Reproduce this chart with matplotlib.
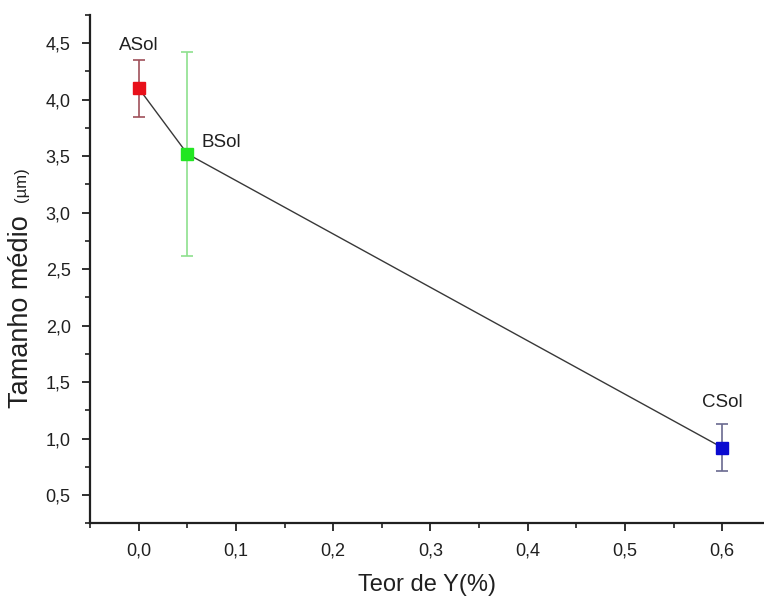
import matplotlib
matplotlib.use("Agg")
import matplotlib.pyplot as plt
from matplotlib.ticker import MultipleLocator, FuncFormatter

plt.rcParams['font.family'] = ['Liberation Sans', 'DejaVu Sans']

# sample data
samples = ['ASol', 'BSol', 'CSol']
teor_y = [0.0, 0.05, 0.6]
tamanho = [4.10, 3.52, 0.92]
erro = [0.25, 0.90, 0.21]

marker_colors = ['#e8101a', '#22e622', '#0a0ad0']
err_colors = ['#a0505a', '#8ee08e', '#6a6a90']
label_offsets = [(0, 25), (10, 8), (0, 26)]

fig = plt.figure(figsize=(7.64, 5.98), dpi=100)
ax = fig.add_axes([0.118, 0.125, 0.882, 0.85])

ax.plot(teor_y, tamanho, color='#383838', lw=1.0, zorder=2)
for x, y, e, mc, ec in zip(teor_y, tamanho, erro, marker_colors, err_colors):
    ax.errorbar(x, y, yerr=e, fmt='none', ecolor=ec, elinewidth=1.2,
                capsize=4, capthick=1.2, zorder=1)
    ax.plot(x, y, 's', color=mc, markersize=8, zorder=3)

for name, x, y, (dx, dy) in zip(samples, teor_y, tamanho, label_offsets):
    ax.annotate(name, (x, y), xytext=(dx, dy), textcoords='offset points',
                ha='center' if dx == 0 else 'left',
                va='bottom' if dx == 0 else 'center',
                fontsize=13.5, color='#202020')

ax.set_xlim(-0.05, 0.643)
ax.set_ylim(0.25, 4.75)

ax.xaxis.set_major_locator(MultipleLocator(0.1))
ax.xaxis.set_minor_locator(MultipleLocator(0.05))
ax.yaxis.set_major_locator(MultipleLocator(0.5))
ax.yaxis.set_minor_locator(MultipleLocator(0.25))

comma = lambda fmt: FuncFormatter(lambda v, p: (fmt % v).replace('.', ','))
ax.xaxis.set_major_formatter(comma('%.1f'))
ax.yaxis.set_major_formatter(comma('%.1f'))

for side in ['top', 'right']:
    ax.spines[side].set_visible(False)
for side in ['left', 'bottom']:
    ax.spines[side].set_linewidth(1.6)
    ax.spines[side].set_color('#202020')

ax.tick_params(which='major', direction='out', length=6, width=1.3,
               labelsize=13, pad=8, colors='#202020')
ax.tick_params(which='minor', direction='out', length=3.5, width=1.2,
               colors='#202020')

ax.set_xlabel('Teor de Y(%)', fontsize=17, labelpad=10, color='#202020')

# y label: unit drawn smaller than the name
fig.text(0.027, 0.318, 'Tamanho médio', rotation=90, ha='center', va='bottom',
         fontsize=19.5, color='#202020')
fig.text(0.028, 0.663, '(µm)', rotation=90, ha='center', va='bottom',
         fontsize=12, color='#202020')

fig.savefig('out.png', dpi=100)
